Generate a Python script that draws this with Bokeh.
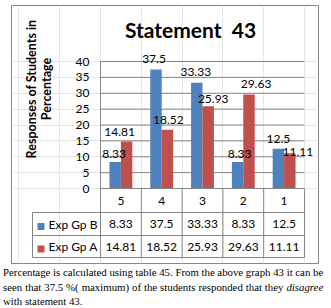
import math
from bokeh.plotting import figure
from bokeh.models import ColumnDataSource, LinearAxis, FixedTicker, Label, Range1d, Div
from bokeh.layouts import column
from bokeh.core.properties import value
from bokeh.transform import dodge
from bokeh.embed import file_html
from bokeh.resources import INLINE

# ---------------- data ----------------
title_text = "Statement  43"
y_label_lines = ["Responses of Students in", "Percentage"]
categories = ["5", "4", "3", "2", "1"]
series_names = ["Exp Gp B", "Exp Gp A"]
exp_gp_b = [8.33, 37.5, 33.33, 8.33, 12.5]
exp_gp_a = [14.81, 18.52, 25.93, 29.63, 11.11]
y_ticks = [0, 5, 10, 15, 20, 25, 30, 35, 40]
caption_lines = [
    "Percentage is calculated using table 45. From the above graph 43 it can be",
    "seen that 37.5 %( maximum) of the students responded that they ",
    "with statement 43.",
]
caption_italic = "disagree"

# ---------------- styles / layout constants (pixels) ----------------
BLUE = "#4F81BD"
RED = "#C0504D"
GRAY = "#868686"
FONT = "Lato"
# hand nudges of the data labels, as in the source chart (pixels, +y = down)
b_label_dx = [-1, -2, -1, 2, 0]
b_label_dy = [-4, -6, -7, -4, -6]
a_label_dx = [-7, 1, 5, 7, 8]
a_label_dy = [-5, -6, -3, -6, 3]

W, H = 331, 265               # canvas
BOX_L, BOX_R, BOX_T, BOX_B = 11, 318, 5, 263   # outer chart border (canvas px)
PLOT_LEFT = 100               # canvas px of value axis
CAT_PX = 40.8                 # px per category
PLOT_TOP = 61                 # canvas px of top tick
PLOT_BOTTOM = 188             # canvas px of zero
ROWS_PX = [188, 212, 235, 257]
TABLE_LEFT = 32
YMAX = y_ticks[-1]
PPU = (PLOT_BOTTOM - PLOT_TOP) / YMAX


def xpx(px):
    return (px - PLOT_LEFT) / CAT_PX


def ypx(py):
    return (PLOT_BOTTOM - py) / PPU


n = len(categories)
p = figure(width=W, height=H, output_backend="svg", toolbar_location=None,
           x_axis_location=None, y_axis_location=None,
           x_range=Range1d(xpx(BOX_L), xpx(BOX_R)),
           y_range=Range1d(ypx(BOX_B), ypx(BOX_T)),
           min_border_left=BOX_L, min_border_right=W - BOX_R,
           min_border_top=BOX_T, min_border_bottom=H - BOX_B)
p.outline_line_color = GRAY
p.outline_line_width = 1
p.background_fill_color = "white"
p.border_fill_color = "white"

# value axis
yaxis = LinearAxis(fixed_location=0, bounds=(0, YMAX), ticker=FixedTicker(ticks=y_ticks))
yaxis.axis_line_color = GRAY
yaxis.major_tick_out = 0
yaxis.major_tick_in = 0
yaxis.minor_tick_out = 0
yaxis.minor_tick_in = 0
yaxis.major_label_standoff = 11
yaxis.major_label_text_font = FONT
yaxis.major_label_text_font_size = "12px"
yaxis.major_label_text_color = "black"
p.add_layout(yaxis, "left")

# gridlines from tick list
gt = y_ticks[1:]
p.segment(x0=[0] * len(gt), y0=gt, x1=[n] * len(gt), y1=gt, line_color=GRAY, line_width=1)

# bars
xc = [i + 0.5 for i in range(n)]
src = ColumnDataSource(dict(
    cat=categories, xc=xc, b=exp_gp_b, a=exp_gp_a,
    b_txt=[f"{v:g}" for v in exp_gp_b], a_txt=[f"{v:g}" for v in exp_gp_a],
    bdx=b_label_dx, bdy=b_label_dy, adx=a_label_dx, ady=a_label_dy,
))
BW = 0.28
p.vbar(x=dodge("xc", -BW / 2), top="b", bottom=0, width=BW, source=src,
       fill_color=BLUE, line_color=None)
p.vbar(x=dodge("xc", BW / 2), top="a", bottom=0, width=BW, source=src,
       fill_color=RED, line_color=None)

# value labels
for col, txt, dx, ox, oy in (("b", "b_txt", -BW / 2, "bdx", "bdy"),
                             ("a", "a_txt", BW / 2, "adx", "ady")):
    p.text(x=dodge("xc", dx), y=col, text=txt, source=src, text_align="center",
           text_baseline="bottom", x_offset=ox, y_offset=oy, text_font=value(FONT),
           text_font_size="12px", text_color="black")

# ---------------- data table ----------------
ry = [ypx(v) for v in ROWS_PX]
tl = xpx(TABLE_LEFT)
hx0 = [0, tl, tl, tl]
hx1 = [n, n, n, n]
p.segment(x0=hx0, y0=ry, x1=hx1, y1=ry, line_color=GRAY, line_width=1)
vx = [tl] + list(range(n + 1))
vy0 = [ry[1]] + [0] * (n + 1)
vy1 = [ry[3]] * (n + 2)
p.segment(x0=vx, y0=vy0, x1=vx, y1=vy1, line_color=GRAY, line_width=1)

row_c_px = [(ROWS_PX[i] + ROWS_PX[i + 1]) / 2 for i in range(3)]
row_c = [ypx(v) for v in row_c_px]
tsrc = ColumnDataSource(dict(
    xc=xc, cat=categories,
    b_txt=[f"{v:g}" for v in exp_gp_b], a_txt=[f"{v:g}" for v in exp_gp_a],
    y1=[row_c[0]] * n, y2=[row_c[1]] * n, y3=[row_c[2]] * n,
))
for t, yc in (("cat", "y1"), ("b_txt", "y2"), ("a_txt", "y3")):
    p.text(x="xc", y=yc, text=t, source=tsrc, text_align="center",
           text_baseline="middle", text_font=value(FONT), text_font_size="12px",
           text_color="black")

lsrc = ColumnDataSource(dict(
    name=series_names, color=[BLUE, RED],
    y=[row_c[1], row_c[2]],
    yk=[ypx(row_c_px[1] + 2.5), ypx(row_c_px[2] + 2.5)],
    xk=[xpx(40.5)] * 2, xt=[xpx(48)] * 2,
))
p.scatter(x="xk", y="yk", marker="square", size=7, fill_color="color",
          line_color=None, source=lsrc)
p.text(x="xt", y="y", text="name", source=lsrc, text_align="left",
       text_baseline="middle", text_font=value(FONT), text_font_size="12px",
       text_color="black")

# ---------------- titles ----------------
p.add_layout(Label(x=xpx(190), y=ypx(28.7), text=title_text.replace("  ", "\u00a0 "),
                   text_align="center", text_baseline="alphabetic", text_font=FONT,
                   text_font_size="21px", text_font_style="bold", text_color="black"))
for line, cx in zip(y_label_lines, (31, 46)):
    p.add_layout(Label(x=xpx(cx), y=ypx(88.5), text=line, angle=math.pi / 2,
                       text_align="center", text_baseline="middle", text_font=FONT,
                       text_font_size="12.5px", text_font_style="bold",
                       text_color="black"))

# ---------------- caption ----------------
just = "text-align:justify;text-align-last:justify;"
html = (
    '<div style="padding:0 3px;">'
    f'<div style="{just}">{caption_lines[0]}</div>'
    f'<div style="{just}">{caption_lines[1]}<i>{caption_italic}</i></div>'
    f'<div style="text-align:left;">{caption_lines[2]}</div>'
    '</div>'
)
div = Div(text=html, width=W, height=43, margin=(0, 0, 0, 0),
          styles={"font-family": "'Liberation Serif', serif", "font-size": "10.8px",
                  "line-height": "14.5px", "color": "black"})

layout = column(p, div, spacing=0)
open("out.html", "w").write(file_html(layout, INLINE))
